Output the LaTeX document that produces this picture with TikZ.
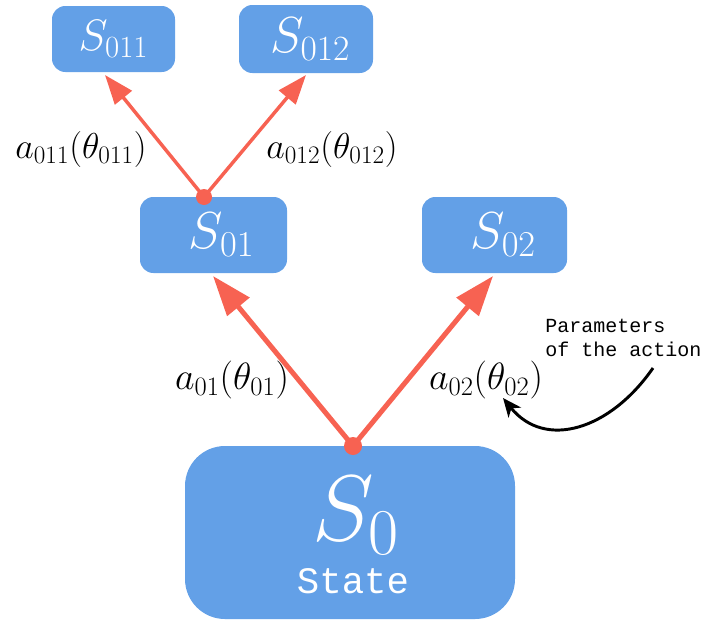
\RequirePackage{fix-cm}
\documentclass[tikz,border=0pt]{standalone}
\usepackage{fontspec}
\setmonofont{Liberation Mono}
\usetikzlibrary{arrows.meta}
\definecolor{boxblue}{RGB}{99,160,231}
\definecolor{actred}{RGB}{247,98,82}
\begin{document}
\begin{tikzpicture}[x=0.75pt,y=-0.75pt,
  statebox/.style={fill=boxblue, draw=none, rounded corners=10pt, inner sep=0pt, text=white},
  boxtext/.style={inner sep=0pt, text=white},
  actdot/.style={circle, fill=actred, inner sep=0pt, minimum size=#1},
  act/.style={draw=actred, line width=3.75pt, -{Triangle[length=30pt,width=21pt]}},
  subact/.style={draw=actred, line width=2.6pt, -{Triangle[length=22pt,width=16pt]}},
  lab/.style={inner sep=0pt, font=\fontsize{#1}{#1}\selectfont},
  note/.style={inner sep=0pt, align=left, font=\fontsize{15}{18}\selectfont\ttfamily},
  pointer/.style={draw=black, line width=2.2pt, -{Stealth[length=14pt,width=12pt,inset=4pt]}}
]
\useasboundingbox (0,0) rectangle (705,621);

% state boxes
\node[statebox, minimum width=92.25pt, minimum height=49.5pt, font=\fontsize{33}{35}\selectfont] (s011) at (113.5,39) {$S_{011}$};
\node[statebox, minimum width=100.5pt, minimum height=51pt, font=\fontsize{38}{40}\selectfont] (s012) at (306,39) {\hspace*{6pt}$S_{012}$};
\node[statebox, minimum width=110.25pt, minimum height=57pt, font=\fontsize{39}{41}\selectfont] (s01) at (213.5,235) {\hspace*{12pt}$S_{01}$};
\node[statebox, minimum width=108.75pt, minimum height=57pt, font=\fontsize{39}{41}\selectfont] (s02) at (494.5,235) {\hspace*{13pt}$S_{02}$};
\node[statebox, rounded corners=30pt, minimum width=247.5pt, minimum height=129.75pt] (s0) at (350,532.5) {};
\node[boxtext, font=\fontsize{70}{72}\selectfont] (s0name) at (356,516) {$S_0$};
\node[boxtext, anchor=base, font=\fontsize{28}{28}\selectfont\ttfamily] (s0kind) at (353,593) {State};

% arrow tips
\coordinate (t01) at (213,276);
\coordinate (t02) at (493,276);
\coordinate (t011) at (105,75);
\coordinate (t012) at (306,75);

% branch points
\coordinate (p0) at (353,446);
\coordinate (p01) at (204,197);

\draw[act] (p0) -- (t01);
\draw[act] (p0) -- (t02);
\draw[subact] (p01) -- (t011);
\draw[subact] (p01) -- (t012);

\node[actdot=13.5pt] (d0) at (p0) {};
\node[actdot=12pt] (d01) at (p01) {};

% labels
\node[lab=27] (l011) at (81,149) {$a_{011}(\theta_{011})$};
\node[lab=27] (l012) at (332,149) {$a_{012}(\theta_{012})$};
\node[lab=28.5] (l01) at (232,380) {$a_{01}(\theta_{01})$};
\node[lab=28.5] (l02) at (486,380) {$a_{02}(\theta_{02})$};

% note
\node[note, anchor=north west] (nt) at (545,319) {Parameters\\of the action};
\coordinate (c0) at (653,368);
\coordinate (c1) at (503,398);
\draw[pointer] (c0) .. controls (610,430) and (545,450) .. (c1);
\end{tikzpicture}
\end{document}
